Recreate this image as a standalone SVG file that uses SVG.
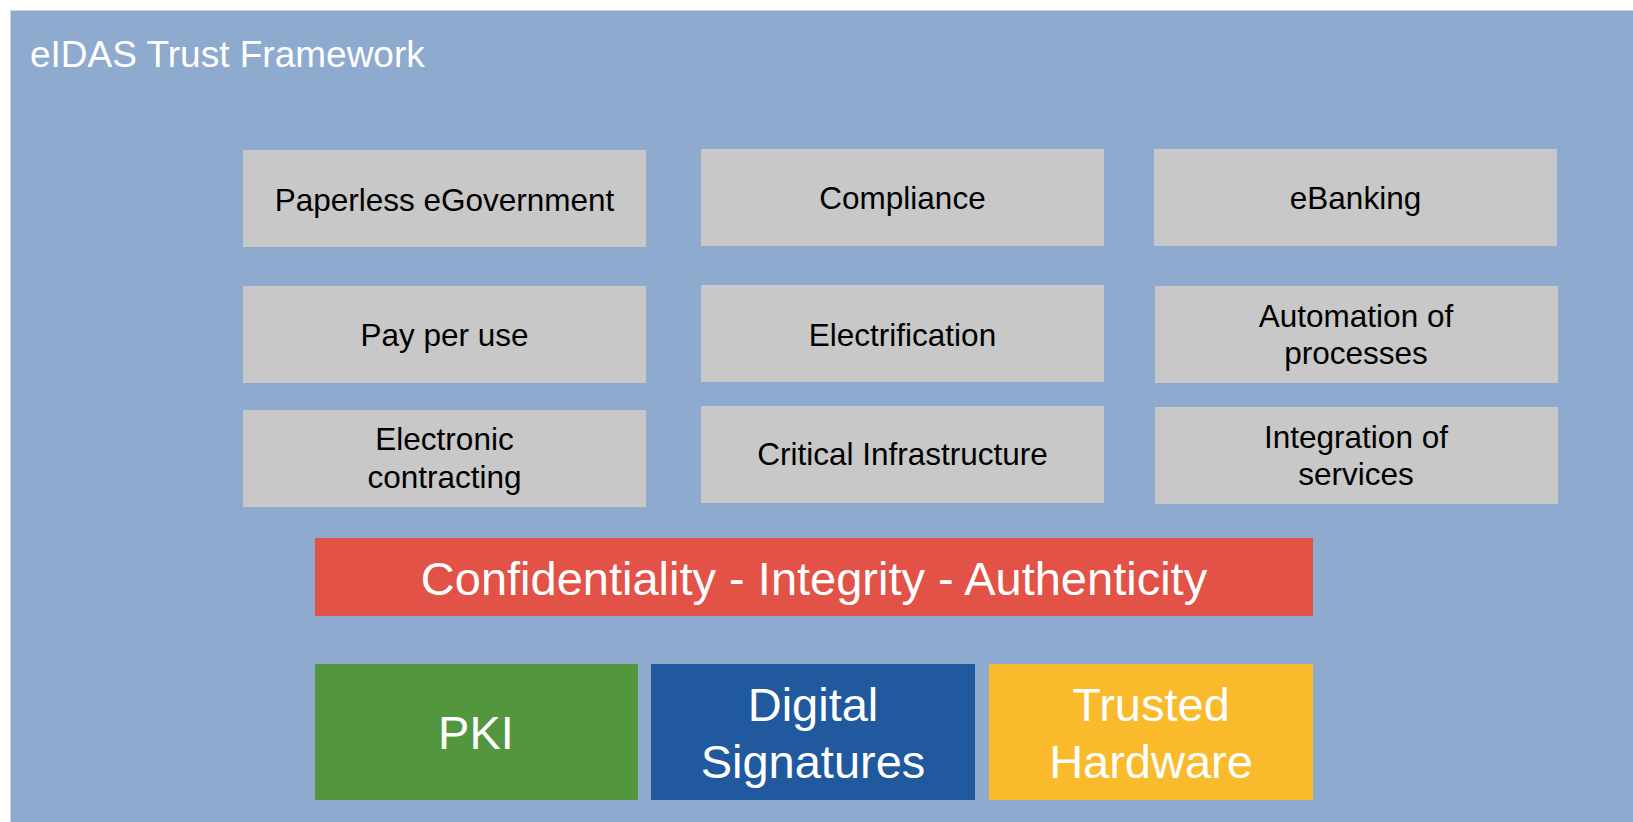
<svg xmlns="http://www.w3.org/2000/svg" width="1633" height="822" viewBox="0 0 1633 822">
<style>
.box{fill:#C8C8C8}
.lbl{font-family:"Liberation Sans",Arial,sans-serif;font-size:31.5px;fill:#000;text-anchor:middle}
.big{font-family:"Liberation Sans",Arial,sans-serif;font-size:47px;fill:#fff;text-anchor:middle}
</style>
<rect x="0" y="0" width="1633" height="822" fill="#ffffff"/>
<g id="frame">
<rect x="10.5" y="10.5" width="1623" height="812" fill="#8FAACF" stroke="#C9D6E8" stroke-width="1"/>
<text x="30" y="67" font-family="Liberation Sans,Arial,sans-serif" font-size="37" fill="#ffffff">eIDAS Trust Framework</text>
</g>
<g id="paperless"><rect class="box" x="243" y="150" width="403" height="97"/><text class="lbl" x="444.5" y="211">Paperless eGovernment</text></g>
<g id="compliance"><rect class="box" x="701" y="149" width="403" height="97"/><text class="lbl" x="902.5" y="208.5">Compliance</text></g>
<g id="ebanking"><rect class="box" x="1154" y="149" width="403" height="97"/><text class="lbl" x="1355.5" y="209">eBanking</text></g>
<g id="payperuse"><rect class="box" x="243" y="286" width="403" height="97"/><text class="lbl" x="444.5" y="346">Pay per use</text></g>
<g id="electrification"><rect class="box" x="701" y="285" width="403" height="97"/><text class="lbl" x="902.5" y="345.5">Electrification</text></g>
<g id="automation"><rect class="box" x="1155" y="286" width="403" height="97"/><text class="lbl" x="1356" y="326.5">Automation of</text><text class="lbl" x="1356" y="363.5">processes</text></g>
<g id="econtracting"><rect class="box" x="243" y="410" width="403" height="97"/><text class="lbl" x="444.5" y="450">Electronic</text><text class="lbl" x="444.5" y="488">contracting</text></g>
<g id="critical"><rect class="box" x="701" y="406" width="403" height="97"/><text class="lbl" x="902.5" y="465">Critical Infrastructure</text></g>
<g id="integration"><rect class="box" x="1155" y="407" width="403" height="97"/><text class="lbl" x="1356" y="448">Integration of</text><text class="lbl" x="1356" y="485">services</text></g>
<g id="cia"><rect x="315" y="538" width="998" height="78" fill="#E35247"/><text class="big" x="814" y="595" font-size="48.7">Confidentiality - Integrity - Authenticity</text></g>
<g id="pki"><rect x="315" y="664" width="323" height="136" fill="#52973E"/><text class="big" x="476" y="749">PKI</text></g>
<g id="digsig"><rect x="651" y="664" width="324" height="136" fill="#20599E"/><text class="big" x="813" y="721">Digital</text><text class="big" x="813" y="777.5">Signatures</text></g>
<g id="trustedhw"><rect x="989" y="664" width="324" height="136" fill="#F9BA2B"/><text class="big" x="1151" y="721">Trusted</text><text class="big" x="1151" y="777.5">Hardware</text></g>
<g id="connectors"></g>
</svg>
